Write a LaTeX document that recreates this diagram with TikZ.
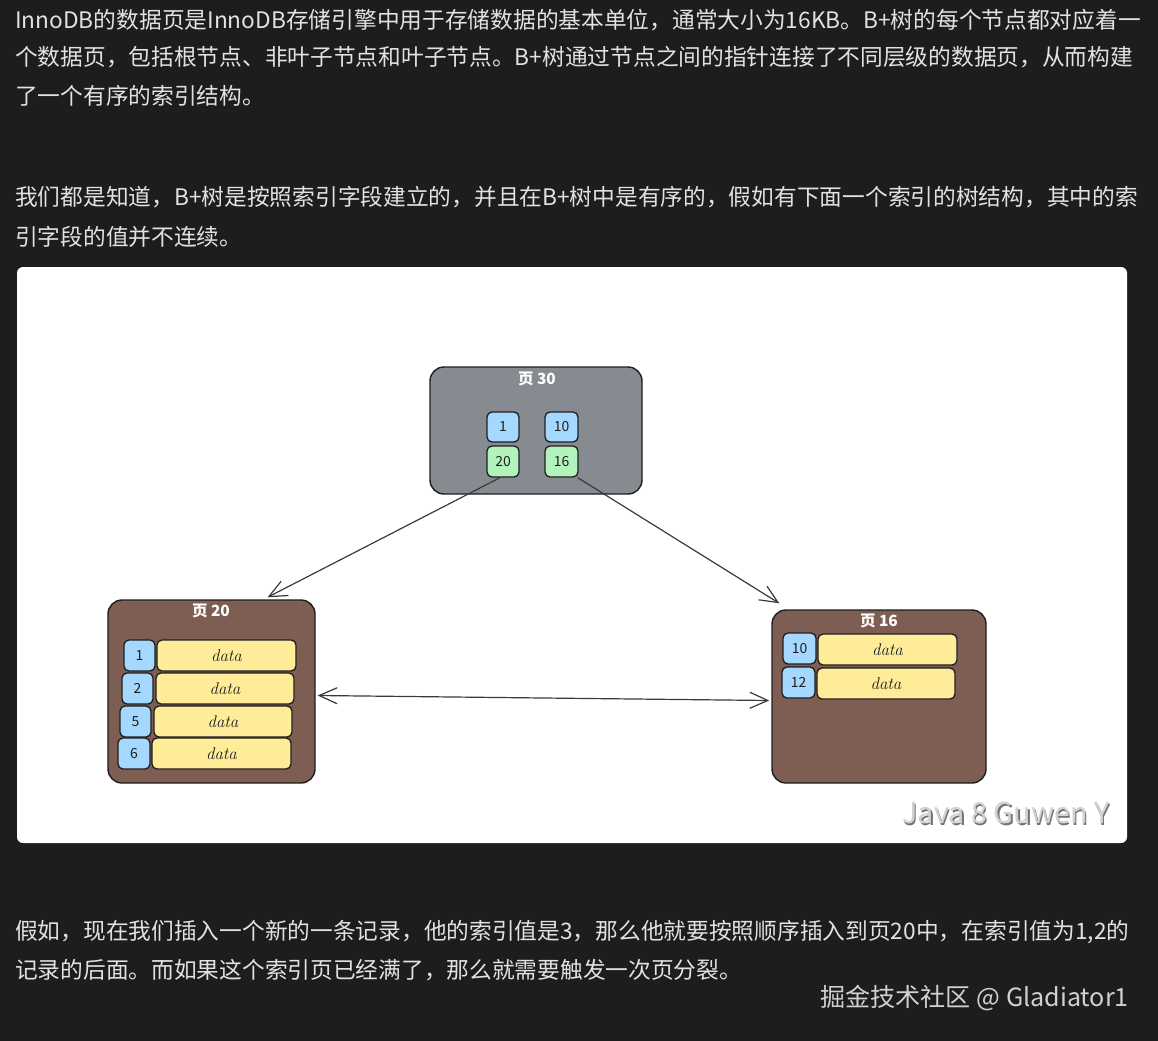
\documentclass[tikz,border=0pt]{standalone}
\usepackage{fontspec}
\newfontfamily\cjk{Noto Sans CJK SC}
\usetikzlibrary{arrows.meta}
\definecolor{bgc}{HTML}{1C1D1F}
\definecolor{txt}{HTML}{E2E2E2}
\definecolor{grayb}{HTML}{868B92}
\definecolor{brownb}{HTML}{7E5E53}
\definecolor{blueb}{HTML}{A5D8FF}
\definecolor{greenb}{HTML}{B2F2BB}
\definecolor{yellowb}{HTML}{FFEC99}
\definecolor{edge}{HTML}{1E1E1E}
\definecolor{lnc}{HTML}{3A3A3A}
\tikzset{
  para/.style={anchor=west,inner sep=0pt,text=txt,font=\cjk\fontsize{22.8}{26}\selectfont},
  page/.style={draw=edge,line width=1.4bp,rounded corners=14bp,inner sep=0pt},
  ttl/.style={text=white,inner sep=0pt,font=\cjk\bfseries\fontsize{15.5}{17}\selectfont},
  keyb/.style={draw=edge,line width=1.3bp,rounded corners=5bp,inner sep=0pt,fill=blueb,font=\cjk\fontsize{14}{16}\selectfont,text=edge},
  keyg/.style={keyb,fill=greenb},
  datab/.style={draw=edge,line width=1.3bp,rounded corners=5bp,inner sep=0pt,fill=yellowb,minimum height=31bp,font=\itshape\fontsize{17}{19}\selectfont,text=edge},
  arr/.style={draw=lnc,line width=1.2bp,-{Straight Barb[length=18bp,width=16bp,line width=1.2bp]}},
  darr/.style={draw=lnc,line width=1.2bp,{Straight Barb[length=18bp,width=16bp,line width=1.2bp]}-{Straight Barb[length=18bp,width=16bp,line width=1.2bp]}}
}
\begin{document}
\begin{tikzpicture}[x=1bp,y=-1bp]
\fill[bgc] (0,0) rectangle (1158,1041);
\useasboundingbox (0,0) rectangle (1158,1041);
% paragraphs
\node[para] (t1) at (15,20) {InnoDB的数据页是InnoDB存储引擎中用于存储数据的基本单位，通常大小为16KB。B+树的每个节点都对应着一};
\node[para] (t2) at (15,57) {个数据页，包括根节点、非叶子节点和叶子节点。B+树通过节点之间的指针连接了不同层级的数据页，从而构建};
\node[para] (t3) at (15,96) {了一个有序的索引结构。};
\node[para] (t4) at (15,197) {我们都是知道，B+树是按照索引字段建立的，并且在B+树中是有序的，假如有下面一个索引的树结构，其中的索};
\node[para] (t5) at (15,237) {引字段的值并不连续。};
\node[para] (t6) at (15,932) {假如，现在我们插入一个新的一条记录，他的索引值是3，那么他就要按照顺序插入到页20中，在索引值为1,2的};
\node[para] (t7) at (15,970) {记录的后面。而如果这个索引页已经满了，那么就需要触发一次页分裂。};
\node[anchor=east,inner sep=0pt,text=txt!92!black,font=\cjk\fontsize{25.2}{28}\selectfont] (wm) at (1129,998) {掘金技术社区 @ Gladiator1};
% white panel
\fill[white,rounded corners=6bp] (17,267) rectangle (1127,843);
% page 30
\node[page,fill=grayb,minimum width=212bp,minimum height=127bp] (p30) at (536,430.5) {};
\node[ttl] (p30t) at (537,379) {页 30};
\node[keyb,minimum width=32bp,minimum height=30bp] (k1) at (503,427) {1};
\node[keyb,minimum width=33bp,minimum height=30bp] (k10) at (561.5,427) {10};
\node[keyg,minimum width=32bp,minimum height=31bp] (k20) at (503,461.5) {20};
\node[keyg,minimum width=33bp,minimum height=31bp] (k16) at (561.5,461.5) {16};
% page 20
\node[page,fill=brownb,minimum width=207bp,minimum height=183bp] (p20) at (211.5,691.5) {};
\node[ttl] (p20t) at (211,611) {页 20};
\node[keyb,minimum width=31bp,minimum height=31bp] (a1) at (139.5,655.5) {1};
\node[keyb,minimum width=31bp,minimum height=31bp] (a2) at (137.5,688.5) {2};
\node[keyb,minimum width=31bp,minimum height=31bp] (a5) at (135.5,721.5) {5};
\node[keyb,minimum width=32bp,minimum height=31bp] (a6) at (134,753.5) {6};
\node[datab,minimum width=139bp] (d1) at (226.5,655.5) {data};
\node[datab,minimum width=138bp] (d2) at (225,688.5) {data};
\node[datab,minimum width=138bp] (d3) at (223,721.5) {data};
\node[datab,minimum width=139bp] (d4) at (221.5,753.5) {data};
% page 16
\node[page,fill=brownb,minimum width=214bp,minimum height=173bp] (p16) at (879,696.5) {};
\node[ttl] (p16t) at (879,621) {页 16};
\node[keyb,minimum width=33bp,minimum height=31bp] (b10) at (799.5,648.5) {10};
\node[keyb,minimum width=33bp,minimum height=31bp] (b12) at (798.5,682.5) {12};
\node[datab,minimum width=139bp] (e1) at (887.5,649.5) {data};
\node[datab,minimum width=138bp] (e2) at (886,683.5) {data};
% connectors
\draw[arr] ([xshift=-3bp]k20.south) -- ([xshift=56bp,yshift=2bp]p20.north);
\draw[arr] ([xshift=-1bp]k16.south east) -- ([xshift=8bp,yshift=6bp]p16.north west);
\draw[darr] ([xshift=2bp,yshift=-4bp]p20.east) -- ([xshift=-2bp,yshift=-4bp]p16.west);
% watermark
\node[anchor=east,inner sep=0pt,text=black!55,font=\cjk\fontsize{29}{32}\selectfont] (jw0) at (1111.5,814.5) {Java 8 Guwen Y};
\node[anchor=east,inner sep=0pt,text=black!18,font=\cjk\fontsize{29}{32}\selectfont] (jw) at (1110,813) {Java 8 Guwen Y};
\end{tikzpicture}
\end{document}
